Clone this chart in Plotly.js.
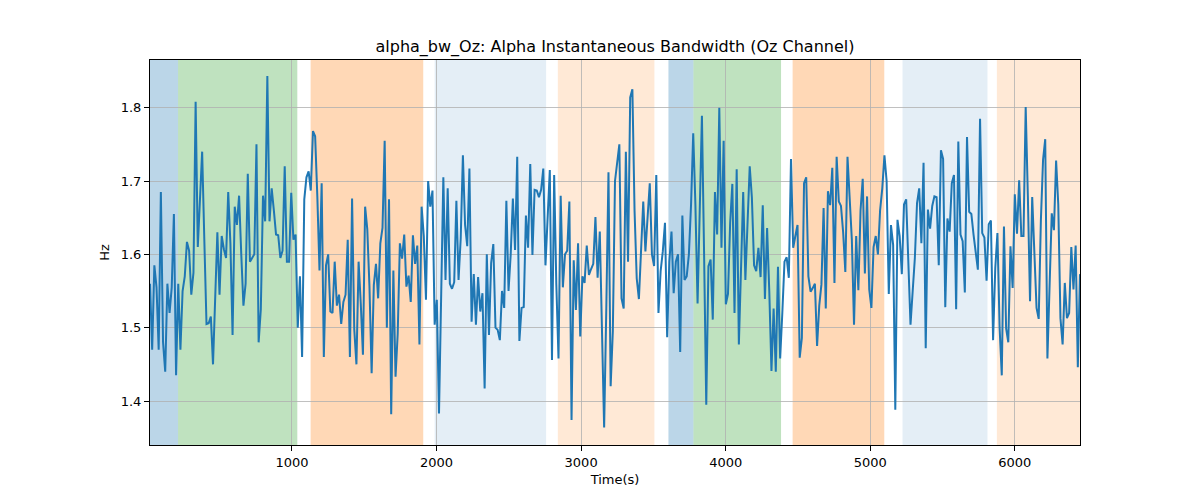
<!DOCTYPE html>
<html>
<head>
<meta charset="utf-8">
<script src="https://cdn.plot.ly/plotly-3.0.1.min.js"></script>
<style>
  body { margin: 0; background: #fff; }
  #chart { width: 1200px; height: 500px; }
</style>
</head>
<body>
<div id="chart"></div>
<script>
// sampling of the bandwidth series (seconds)
var timeStart = 18;
var timeStep = 15.03;

var bandwidthHz = [
    1.56, 1.47, 1.585, 1.555, 1.47, 1.685, 1.48, 1.44, 1.56, 1.52,
    1.555, 1.655, 1.435, 1.56, 1.47, 1.55, 1.57, 1.617, 1.605, 1.545,
    1.575, 1.808, 1.61, 1.68, 1.74, 1.62, 1.505, 1.506, 1.515, 1.45,
    1.555, 1.63, 1.545, 1.625, 1.607, 1.595, 1.685, 1.615, 1.49, 1.665,
    1.64, 1.68, 1.6, 1.53, 1.56, 1.71, 1.59, 1.595, 1.6, 1.75,
    1.48, 1.525, 1.68, 1.645, 1.843,

    1.645, 1.69, 1.66, 1.627, 1.626, 1.595, 1.605, 1.72, 1.59, 1.59,
    1.684, 1.62, 1.627, 1.50, 1.57, 1.46, 1.675, 1.705, 1.713, 1.687,
    1.768, 1.761, 1.68, 1.578, 1.697, 1.46, 1.585, 1.6, 1.522, 1.52,
    1.59, 1.53, 1.545, 1.505, 1.535, 1.545, 1.62, 1.46, 1.676, 1.498,
    1.45, 1.59, 1.533, 1.463, 1.665, 1.634, 1.556, 1.438, 1.558, 1.587,
    1.54, 1.615, 1.636, 1.755, 1.50, 1.675,

    1.382, 1.578, 1.433, 1.492, 1.615, 1.594, 1.627, 1.556, 1.571, 1.535,
    1.626, 1.587, 1.612, 1.477, 1.665, 1.625, 1.538, 1.70, 1.665, 1.687,
    1.504, 1.538, 1.383, 1.522, 1.705, 1.565, 1.69, 1.56, 1.553, 1.562,
    1.673, 1.565, 1.622, 1.735, 1.64, 1.611, 1.717, 1.508, 1.573, 1.504,
    1.569, 1.522, 1.547, 1.417, 1.6, 1.49, 1.588, 1.614, 1.50, 1.497,
    1.483, 1.55, 1.527, 1.673, 1.55,

    1.60, 1.676, 1.606, 1.733, 1.482, 1.527, 1.528, 1.653, 1.609, 1.723,
    1.599, 1.688, 1.687, 1.678, 1.688, 1.717, 1.585, 1.654, 1.715, 1.456,
    1.708, 1.559, 1.458, 1.68, 1.555, 1.60, 1.605, 1.672, 1.374, 1.592,
    1.524, 1.615, 1.488, 1.57, 1.561, 1.612, 1.572, 1.58, 1.587, 1.651,
    1.568, 1.631, 1.486, 1.364, 1.527, 1.712, 1.42, 1.495, 1.70, 1.727,
    1.75, 1.54, 1.526, 1.74, 1.59,

    1.814, 1.825, 1.659, 1.567, 1.539, 1.60, 1.672, 1.604, 1.645, 1.697,
    1.60, 1.584, 1.708, 1.52, 1.577, 1.604, 1.643, 1.487, 1.59, 1.631,
    1.547, 1.59, 1.60, 1.467, 1.653, 1.565, 1.57, 1.60, 1.668, 1.765,
    1.668, 1.533, 1.66, 1.789, 1.60, 1.395, 1.584, 1.593, 1.511, 1.685,
    1.627, 1.80, 1.609, 1.755, 1.532, 1.546, 1.643, 1.696, 1.52, 1.716,
    1.477, 1.595, 1.685, 1.565, 1.65, 1.72,

    1.677, 1.585, 1.577, 1.609, 1.569, 1.667, 1.539, 1.636, 1.55, 1.441,
    1.526, 1.44, 1.583, 1.458, 1.52, 1.59, 1.596, 1.568, 1.73, 1.609,
    1.625, 1.64, 1.459, 1.486, 1.697, 1.705, 1.57, 1.549, 1.554, 1.56,
    1.475, 1.53, 1.559, 1.663, 1.526, 1.686, 1.667, 1.718, 1.561, 1.733,
    1.672, 1.666, 1.63, 1.576, 1.733, 1.68, 1.62, 1.504, 1.625, 1.551,
    1.66, 1.703, 1.574, 1.679, 1.552,

    1.527, 1.61, 1.625, 1.60, 1.66, 1.69, 1.735, 1.70, 1.546, 1.64,
    1.613, 1.388, 1.647, 1.625, 1.573, 1.668, 1.675, 1.595, 1.504, 1.55,
    1.595, 1.67, 1.69, 1.615, 1.725, 1.472, 1.661, 1.635, 1.666, 1.679,
    1.678, 1.585, 1.742, 1.73, 1.528, 1.649, 1.631, 1.697, 1.708, 1.525,
    1.754, 1.627, 1.618, 1.548, 1.76, 1.658, 1.655, 1.627, 1.605, 1.579,
    1.785, 1.629, 1.623, 1.564, 1.641,

    1.646, 1.483, 1.581, 1.629, 1.50, 1.435, 1.638, 1.499, 1.48, 1.611,
    1.554, 1.682, 1.628, 1.701, 1.625, 1.625, 1.801, 1.68, 1.536, 1.678,
    1.60, 1.527, 1.512, 1.647, 1.729, 1.757, 1.458, 1.57, 1.656, 1.633,
    1.728, 1.668, 1.513, 1.477, 1.561, 1.513, 1.52, 1.61, 1.552, 1.612,
    1.446, 1.573
];

// shaded segments: start, end (s) and colour group
var bandStart = [0, 212, 1129, 1987, 2839, 3604, 3777, 4463, 5223, 5876];
var bandEnd   = [212, 1037, 1908, 2758, 3507, 3777, 4383, 5097, 5811, 6500];
var bandKind  = ['blue', 'green', 'orange', 'paleblue', 'paleorange',
                 'blue', 'green', 'orange', 'paleblue', 'paleorange'];

var xTicks = [1000, 2000, 3000, 4000, 5000, 6000];
var yTicks = [1.4, 1.5, 1.6, 1.7, 1.8];

var bandColors = {
    blue: 'rgba(31,119,180,0.3)',
    green: 'rgba(44,160,44,0.3)',
    orange: 'rgba(255,127,14,0.3)',
    paleblue: 'rgba(31,119,180,0.12)',
    paleorange: 'rgba(255,127,14,0.17)'
};

var timeEnd = timeStart + timeStep * (bandwidthHz.length - 1);

var shapes = bandStart.map(function (s, i) {
    return {
        type: 'rect',
        xref: 'x',
        yref: 'paper',
        x0: s,
        x1: bandEnd[i],
        y0: 0,
        y1: 1,
        fillcolor: bandColors[bandKind[i]],
        line: { width: 0 },
        layer: 'below'
    };
});

var data = [{
    type: 'scatter',
    mode: 'lines',
    x0: timeStart,
    dx: timeStep,
    y: bandwidthHz,
    line: { color: '#1f77b4', width: 2 },
    hoverinfo: 'x+y'
}];

var axisStyle = {
    showline: true,
    linecolor: '#000',
    linewidth: 1,
    mirror: true,
    ticks: 'outside',
    ticklen: 5,
    tickwidth: 1,
    tickcolor: '#000',
    showgrid: true,
    gridcolor: '#b0b0b0',
    gridwidth: 0.8,
    zeroline: false,
    tickfont: { family: 'DejaVu Sans', size: 13, color: '#000' }
};

var layout = {
    width: 1200,
    height: 500,
    margin: { l: 150, r: 120, t: 60, b: 55 },
    paper_bgcolor: '#fff',
    plot_bgcolor: '#fff',
    showlegend: false,
    font: { family: 'DejaVu Sans', color: '#000' },
    title: {
        text: 'alpha_bw_Oz: Alpha Instantaneous Bandwidth (Oz Channel)',
        font: { family: 'DejaVu Sans', size: 16, color: '#000' },
        x: 0.5125,
        xanchor: 'center',
        y: 0.908,
        yanchor: 'middle'
    },
    xaxis: Object.assign({}, axisStyle, {
        range: [timeStart, timeEnd],
        tickvals: xTicks,
        title: { text: 'Time(s)', font: { family: 'DejaVu Sans', size: 13 }, standoff: 6 }
    }),
    yaxis: Object.assign({}, axisStyle, {
        range: [1.34, 1.865],
        tickvals: yTicks,
        ticktext: yTicks.map(function (v) { return v.toFixed(1); }),
        title: { text: 'Hz', font: { family: 'DejaVu Sans', size: 13 }, standoff: 8 }
    }),
    shapes: shapes
};

Plotly.newPlot('chart', data, layout, { displayModeBar: false, staticPlot: true });
</script>
</body>
</html>
